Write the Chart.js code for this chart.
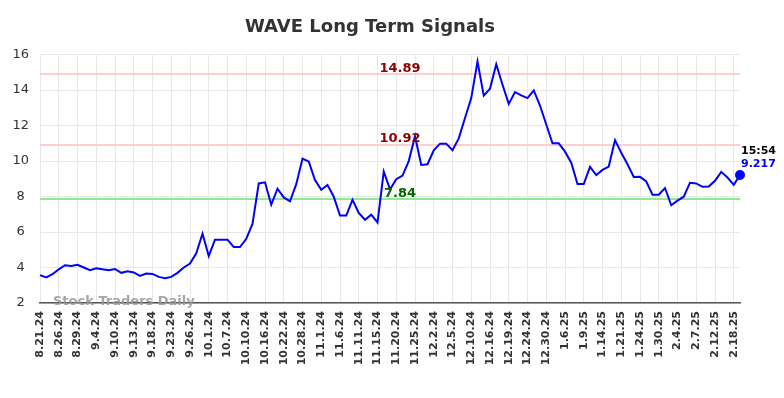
<!DOCTYPE html>
<html>
<head>
<meta charset="utf-8">
<script src="https://cdn.jsdelivr.net/npm/chart.js@4/dist/chart.umd.min.js"></script>
<style>
    html, body { margin: 0; padding: 0; background: #fff; }
    canvas { display: block; }
</style>
</head>
<body>
<canvas id="wave-chart" width="784" height="398"></canvas>
<script>
/* WAVE long term signals */

// one tick label every third session
var tickLabels = [
    '8.21.24', '8.26.24', '8.29.24', '9.4.24', '9.10.24', '9.13.24', '9.18.24', '9.23.24',
    '9.26.24', '10.1.24', '10.7.24', '10.10.24', '10.16.24', '10.22.24', '10.28.24', '11.1.24',
    '11.6.24', '11.11.24', '11.15.24', '11.20.24', '11.25.24', '12.2.24', '12.5.24', '12.10.24',
    '12.16.24', '12.19.24', '12.24.24', '12.30.24', '1.6.25', '1.9.25', '1.14.25', '1.21.25',
    '1.24.25', '1.30.25', '2.4.25', '2.7.25', '2.12.25', '2.18.25'
];

var prices = [
    3.57, 3.44, 3.62, 3.90, 4.13, 4.09, 4.15, 4.00, 3.85, 3.96,
    3.90, 3.85, 3.92, 3.70, 3.79, 3.72, 3.53, 3.66, 3.64, 3.47,
    3.40, 3.47, 3.70, 4.00, 4.22, 4.80, 5.90, 4.65, 5.57, 5.57,
    5.57, 5.15, 5.15, 5.62, 6.46, 8.74, 8.80, 7.54, 8.44, 7.95,
    7.73, 8.70, 10.14, 9.97, 8.93, 8.38, 8.65, 7.99, 6.93, 6.93,
    7.82, 7.08, 6.69, 6.98, 6.54, 9.41, 8.40, 8.98, 9.18, 10.00,
    11.40, 9.78, 9.82, 10.61, 10.98, 10.98, 10.61, 11.28, 12.43, 13.55,
    15.61, 13.69, 14.08, 15.46, 14.30, 13.22, 13.89, 13.70, 13.55, 13.98,
    13.13, 12.06, 11.00, 11.00, 10.53, 9.91, 8.70, 8.70, 9.67, 9.21,
    9.50, 9.69, 11.18, 10.47, 9.82, 9.10, 9.11, 8.85, 8.10, 8.10,
    8.48, 7.51, 7.77, 7.99, 8.78, 8.74, 8.55, 8.57, 8.89, 9.39,
    9.07, 8.66, 9.217
];

var resistLevels = [14.89, 10.92];
var supportLevels = [7.84];
var lastTime = '15:54';

var categories = prices.map(function (v, i) {
    return i % 3 === 0 ? tickLabels[i / 3] : '';
});
var lastIdx = prices.length - 1;

Chart.defaults.font.family = "'DejaVu Sans', sans-serif";
Chart.defaults.color = '#333';

/* ── Signal lines, labels, watermark ───────────────────────── */
var overlays = {
    id: 'overlays',
    beforeDatasetsDraw: function (chart) {
        var c = chart.ctx, a = chart.chartArea, y = chart.scales.y;
        c.save();
        c.lineWidth = 2;
        c.strokeStyle = '#ffcfcf';
        resistLevels.forEach(function (lv) {
            var py = Math.round(y.getPixelForValue(lv));
            c.beginPath(); c.moveTo(a.left, py); c.lineTo(a.right, py); c.stroke();
        });
        c.strokeStyle = '#90e890';
        supportLevels.forEach(function (lv) {
            var py = Math.round(y.getPixelForValue(lv));
            c.beginPath(); c.moveTo(a.left, py); c.lineTo(a.right, py); c.stroke();
        });
        c.restore();
    },
    afterDatasetsDraw: function (chart) {
        var c = chart.ctx, y = chart.scales.y;
        c.save();
        c.font = "bold 13px 'DejaVu Sans'";
        c.textAlign = 'center';
        c.textBaseline = 'alphabetic';
        c.fillStyle = '#8b0000';
        resistLevels.forEach(function (lv) {
            c.fillText(lv.toFixed(2), 400, y.getPixelForValue(lv) - 2.5);
        });
        c.fillStyle = '#006400';
        supportLevels.forEach(function (lv) {
            c.fillText(lv.toFixed(2), 400, y.getPixelForValue(lv) - 2.5);
        });

        // last value note
        var pt = chart.getDatasetMeta(0).data[lastIdx];
        c.font = "bold 11px 'DejaVu Sans'";
        c.textAlign = 'left';
        c.textBaseline = 'middle';
        c.fillStyle = '#000';
        c.fillText(lastTime, pt.x + 1, pt.y - 24);
        c.fillStyle = '#0000ff';
        c.fillText(String(prices[lastIdx]), pt.x + 1, pt.y - 11);
        c.restore();
    },
    afterDraw: function (chart) {
        var c = chart.ctx, a = chart.chartArea;
        c.save();
        c.font = "bold 13px 'DejaVu Sans'";
        c.textAlign = 'left';
        c.textBaseline = 'middle';
        c.fillStyle = 'rgba(150,150,150,.85)';
        c.fillText('Stock Traders Daily', 53, a.bottom - 1);
        c.restore();
    }
};

new Chart(document.getElementById('wave-chart'), {
    type: 'line',
    data: {
        labels: categories,
        datasets: [{
            data: prices,
            borderColor: '#0000ff',
            backgroundColor: '#0000ff',
            borderWidth: 2,
            tension: 0,
            pointRadius: function (ctx) { return ctx.dataIndex === lastIdx ? 4 : 0; },
            pointHoverRadius: 0,
        }],
    },
    options: {
        responsive: false,
        animation: false,
        devicePixelRatio: 1,
        layout: { padding: { left: 0, right: 44, top: 0, bottom: 0 } },
        plugins: {
            legend: { display: false },
            tooltip: { enabled: false },
            title: {
                display: true,
                text: 'WAVE Long Term Signals',
                color: '#333',
                font: { size: 18, weight: 'bold' },
                padding: { top: 17, bottom: 16 },
            },
        },
        scales: {
            x: {
                offset: false,
                grid: { color: '#e8e8e8', drawTicks: false },
                border: { color: '#555', width: 1.5 },
                ticks: {
                    autoSkip: false,
                    minRotation: 90,
                    maxRotation: 90,
                    padding: 8,
                    color: '#333',
                    font: { size: 11, weight: 'bold' },
                    callback: function (val, i) {
                        return i % 3 === 0 ? this.getLabelForValue(val) : null;
                    },
                },
                afterFit: function (s) { s.height = 95; },
            },
            y: {
                min: 2,
                max: 16,
                grid: { color: '#e8e8e8', drawTicks: false },
                border: { display: false },
                ticks: {
                    stepSize: 2,
                    padding: 11,
                    crossAlign: 'center',
                    color: '#333',
                    font: { size: 13 },
                },
                afterFit: function (s) { s.width = 40; },
            },
        },
    },
    plugins: [overlays],
});
</script>
</body>
</html>
